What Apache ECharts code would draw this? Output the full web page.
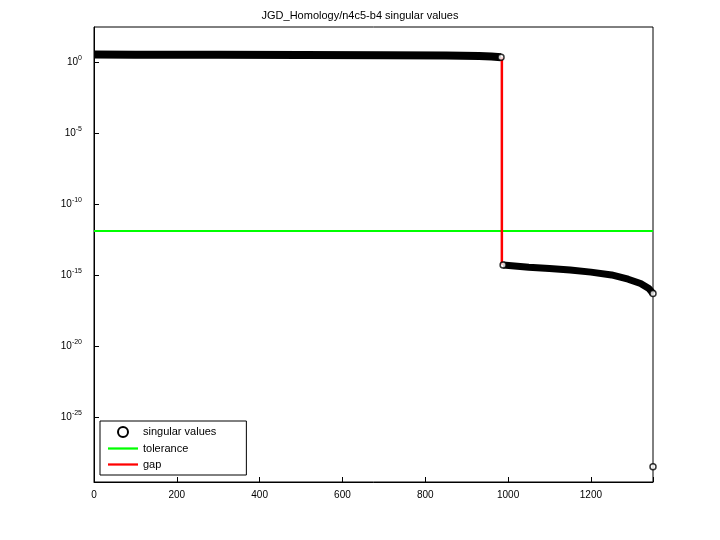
<!DOCTYPE html>
<html><head><meta charset="utf-8">
<script src="https://cdn.jsdelivr.net/npm/echarts@6/dist/echarts.min.js"></script>
<style>html,body{margin:0;background:#fff}#c{width:720px;height:540px}</style>
</head><body><div id="c"></div>
<script>
// singular values: [index, log10(value)]
var upperBand = [[1,0.52],[100,0.51],[300,0.5],[500,0.49],[700,0.47],[850,0.45],[930,0.42],[960,0.38],[983,0.33]];
var lowerBand = [[988,-14.3],[1050,-14.45],[1100,-14.55],[1150,-14.65],[1200,-14.8],[1250,-15.0],[1290,-15.3],[1320,-15.6],[1340,-15.95],[1350,-16.3]];
var outlier = [[1350,-28.5]];
var tolerance = [[0,-11.9],[1350,-11.9]];
var gap = [[985,0.33],[985,-14.3]];
var yTicks = [0,-5,-10,-15,-20,-25];

var chart = echarts.init(document.getElementById('c'));
var font = 'Liberation Sans';
var lineIcon = 'path://M0,0h40v3h-40z';
var dotIcon = 'path://M15,5a3,3 0 1,0 0.001,0z';
chart.setOption({
    animation: false,
    title: {text: 'JGD_Homology/n4c5-b4 singular values', left: 'center', top: 5,
        textStyle: {fontFamily: font, fontSize: 11, fontWeight: 'normal', color: '#000'}},
    grid: {left: 94, right: 67, top: 27, bottom: 58, show: true, borderColor: '#000', borderWidth: 1},
    xAxis: {type: 'value', min: 0, max: 1350, interval: 200,
        axisLine: {onZero: false, lineStyle: {color: '#000'}}, axisTick: {inside: true, length: 5},
        splitLine: {show: false},
        axisLabel: {color: '#000', fontFamily: font, fontSize: 10,
            formatter: function (v) { return v % 200 === 0 ? String(v) : ''; }}},
    yAxis: {type: 'value', min: -29.58, max: 2.46,
        axisLine: {onZero: false, lineStyle: {color: '#000'}},
        axisTick: {inside: true, length: 5, customValues: yTicks},
        splitLine: {show: false},
        axisLabel: {customValues: yTicks, color: '#000', fontFamily: font, fontSize: 10, margin: 12,
            formatter: function (v) { return '10{s|' + v + '}'; },
            rich: {s: {fontSize: 7, verticalAlign: 'top', padding: [0, 0, 8, 0], fontFamily: font, color: '#000'}}}},
    legend: {orient: 'vertical', left: 100, top: 421, itemGap: 5, itemWidth: 30, itemHeight: 10,
        padding: [5, 30, 5, 8], borderColor: '#000', borderWidth: 1, backgroundColor: '#fff',
        textStyle: {fontFamily: font, fontSize: 11, color: '#000'},
        data: [
            {name: 'singular values', icon: 'circle', itemStyle: {color: '#fff', borderColor: '#000', borderWidth: 2}},
            {name: 'tolerance', icon: lineIcon},
            {name: 'gap', icon: lineIcon}
        ]},
    series: [
        {name: 'singular values', type: 'line', data: upperBand, symbol: 'none',
            lineStyle: {color: '#000', width: 8}, itemStyle: {color: '#000'}},
        {name: 'singular values', type: 'line', data: lowerBand, symbol: 'none',
            lineStyle: {color: '#000', width: 7}},
        {name: 'singular values', type: 'scatter', data: outlier, symbol: 'circle', symbolSize: 6,
            itemStyle: {color: '#fff', borderColor: '#000', borderWidth: 1.5}},
        {name: 'tolerance', type: 'line', data: tolerance, symbol: 'none',
            lineStyle: {color: '#00ff00', width: 2}, itemStyle: {color: '#00ff00'}},
        {name: 'gap', type: 'line', data: gap, symbol: 'none',
            lineStyle: {color: '#ff0000', width: 2.5}, itemStyle: {color: '#ff0000'}},
        {name: 'singular values', type: 'scatter', data: [upperBand[upperBand.length - 1], lowerBand[0], lowerBand[lowerBand.length - 1]],
            symbolSize: 6, itemStyle: {color: '#fff', borderColor: '#000', borderWidth: 1.5}, z: 5}
    ]
});
</script></body></html>
